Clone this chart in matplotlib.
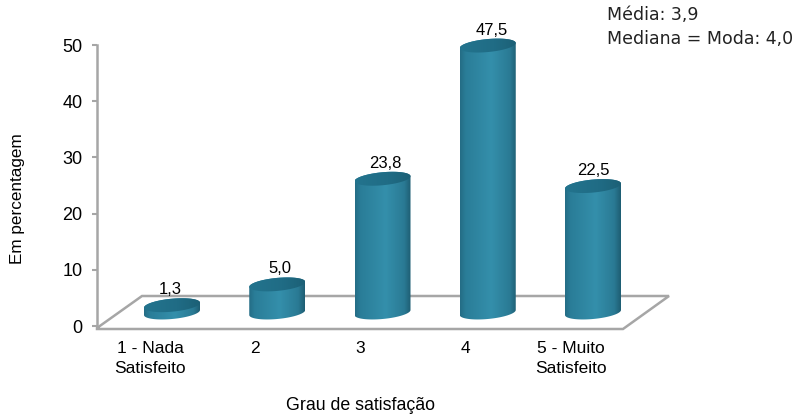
import numpy as np
import matplotlib
matplotlib.use("Agg")
import matplotlib.pyplot as plt
from matplotlib.colors import LinearSegmentedColormap
from matplotlib.path import Path
from matplotlib.patches import PathPatch, Polygon

categories = ["1 - Nada\nSatisfeito", "2", "3", "4", "5 - Muito\nSatisfeito"]
values = [1.3, 5.0, 23.8, 47.5, 22.5]
value_labels = ["1,3", "5,0", "23,8", "47,5", "22,5"]
y_ticks = [0, 10, 20, 30, 40, 50]

plt.rcParams["font.family"] = ["Liberation Sans", "DejaVu Sans"]

W, H = 795, 419
fig = plt.figure(figsize=(W / 100, H / 100), dpi=100)

# Plot box in figure pixels (y measured from the top edge); zero sits at y=326
left, right, top, bottom = 97, 669, 20, 326
unit_px = 281 / 50
y_max = (bottom - top) / unit_px
ax = fig.add_axes([left / W, 1 - bottom / H, (right - left) / W, (bottom - top) / H])

step_px = 105.25
first_px = 172
ax.set_xlim((left - first_px) / step_px, (right - first_px) / step_px)
ax.set_ylim(0, y_max)


def dx(px):
    return px / step_px


def dy(px):
    return px / unit_px


# Floor of the 3D scene, drawn behind the columns
gray = "#a6a6a6"
floor = [(97, 328), (142, 296), (669, 296), (623, 329), (97, 329)]
floor_data = [((x - first_px) / step_px, (bottom - y) / unit_px) for x, y in floor]
ax.add_patch(Polygon(floor_data, closed=True, fill=False, edgecolor=gray, lw=1.8,
                     clip_on=False, joinstyle="miter", zorder=1))

body_cmap = LinearSegmentedColormap.from_list(
    "body", [(0, "#246c85"), (0.1, "#2a7d98"), (0.55, "#348fab"),
             (0.88, "#2a7a94"), (1, "#1e5d72")])
cap_cmap = LinearSegmentedColormap.from_list(
    "cap", [(0, "#23748e"), (0.6, "#206c85"), (1, "#1c6076")])

a_px, b_px, tilt_px = 28.0, 6.5, 2.5
base = dy(bottom - 312.5)
ramp = np.linspace(0, 1, 256).reshape(1, -1)
# Small horizontal nudges keep the value labels clear of the column caps
label_nudge_px = [-2, 2.5, 3, 4.5, 0]


def ellipse(cx, cy, t):
    return (cx + dx(a_px) * np.cos(t),
            cy + dy(b_px) * np.sin(t) + dy(tilt_px) * np.cos(t))


for i, v in enumerate(values):
    ytop = base + v
    # Column side: lower half of the base ellipse, upper half of the top one
    bx, by = ellipse(i, base, np.linspace(np.pi, 2 * np.pi, 60))
    tx, ty = ellipse(i, ytop, np.linspace(0, np.pi, 60))
    verts = np.vstack([np.column_stack([bx, by]), np.column_stack([tx, ty]),
                       [[bx[0], by[0]]]])
    clip = PathPatch(Path(verts, closed=True), transform=ax.transData, fc="none", ec="none")
    ax.add_patch(clip)
    extent = (i - dx(a_px), i + dx(a_px), base - dy(b_px + tilt_px), ytop + dy(b_px + tilt_px))
    im = ax.imshow(ramp, cmap=body_cmap, extent=extent, aspect="auto", zorder=3)
    im.set_clip_path(clip)

    # Column top
    cx, cy = ellipse(i, ytop, np.linspace(0, 2 * np.pi, 120))
    cap = PathPatch(Path(np.column_stack([cx, cy]), closed=True), transform=ax.transData,
                    fc="none", ec="none")
    ax.add_patch(cap)
    imc = ax.imshow(ramp, cmap=cap_cmap, extent=extent, aspect="auto", zorder=4)
    imc.set_clip_path(cap)

    ax.text(i + dx(label_nudge_px[i]), ytop + dy(8), value_labels[i], ha="center", va="bottom",
            fontsize=12, color="black", zorder=5)

ax.set_xlim((left - first_px) / step_px, (right - first_px) / step_px)
ax.set_ylim(0, y_max)

for name in ("top", "right", "bottom"):
    ax.spines[name].set_visible(False)
ax.spines["left"].set_color(gray)
ax.spines["left"].set_linewidth(1.8)
ax.spines["left"].set_bounds(0, 50)

ax.set_yticks(y_ticks)
ax.tick_params(axis="y", length=3.5, width=1.5, color=gray, labelsize=13, pad=7)

# Category labels sit under the front edge of the floor
ax.set_xticks([i - dx(22) for i in range(len(categories))])
ax.set_xticklabels(categories, fontsize=12.5, linespacing=1.37)
ax.tick_params(axis="x", length=0, pad=11)

fig.text(18 / W, 1 - 199 / H, "Em percentagem", rotation=90, ha="center", va="center", fontsize=12.3)
fig.text(361 / W, 1 - 405 / H, "Grau de satisfação", ha="center", va="center", fontsize=12.8)

fig.text(607 / W, 1 - 15 / H, "Média: 3,9", family="DejaVu Sans", ha="left", va="center",
         fontsize=12.5, color="#222222")
fig.text(607 / W, 1 - 39 / H, "Mediana = Moda: 4,0", family="DejaVu Sans", ha="left", va="center",
         fontsize=12.5, color="#222222")

fig.savefig("out.png", dpi=100)
